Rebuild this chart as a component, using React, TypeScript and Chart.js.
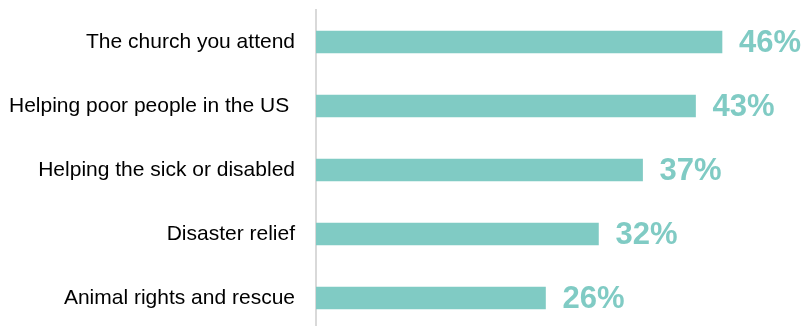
import React, { useEffect, useRef } from "react";
import { Chart, registerables } from "chart.js";

Chart.register(...registerables);

const categories = [
  "The church you attend",
  "Helping poor people in the US ",
  "Helping the sick or disabled",
  "Disaster relief",
  "Animal rights and rescue",
];
const values = [46, 43, 37, 32, 26];
const valueLabels = ["46%", "43%", "37%", "32%", "26%"];

const TEAL = "#80CBC4";
const FONT = "Arial, 'Liberation Sans', sans-serif";

const valueLabelPlugin = {
  id: "valueLabels",
  afterDatasetsDraw(chart: any) {
    const ctx = chart.ctx;
    const meta = chart.getDatasetMeta(0);
    ctx.save();
    ctx.font = `bold 31px ${FONT}`;
    ctx.fillStyle = TEAL;
    ctx.textAlign = "left";
    ctx.textBaseline = "middle";
    meta.data.forEach((bar: any, i: number) => {
      ctx.fillText(valueLabels[i], bar.x + 17, bar.y + 1);
    });
    ctx.restore();
  },
};

export default function App() {
  const ref = useRef<HTMLCanvasElement>(null);
  useEffect(() => {
    if (!ref.current) return;
    const chart = new Chart(ref.current, {
      type: "bar",
      data: {
        labels: categories,
        datasets: [
          {
            data: values,
            backgroundColor: TEAL,
            borderWidth: 0,
            barThickness: 22,
          },
        ],
      },
      options: {
        indexAxis: "y",
        animation: false,
        responsive: false,
        maintainAspectRatio: false,
        layout: { padding: { top: 10, right: 48.7, bottom: 0, left: 0 } },
        plugins: {
          legend: { display: false },
          tooltip: { enabled: false },
        },
        scales: {
          x: {
            display: false,
            min: 0,
            max: 50,
          },
          y: {
            afterFit: (scale: any) => {
              scale.width = 316;
              scale.paddingTop = 0;
              scale.paddingBottom = 0;
            },
            grid: { display: false, drawTicks: false },
            border: { display: true, color: "#D9D9D9", width: 2 },
            ticks: {
              padding: 21,
              color: "#000000",
              font: { family: FONT, size: 21 },
            },
          },
        },
      },
      plugins: [valueLabelPlugin],
    });
    return () => chart.destroy();
  }, []);
  return (
    <div
      style={{
        position: "fixed",
        left: 0,
        top: 0,
        width: 806,
        height: 326,
        overflow: "hidden",
        background: "#fff",
      }}
    >
      <canvas ref={ref} width={806} height={330} style={{ display: "block" }} />
    </div>
  );
}
